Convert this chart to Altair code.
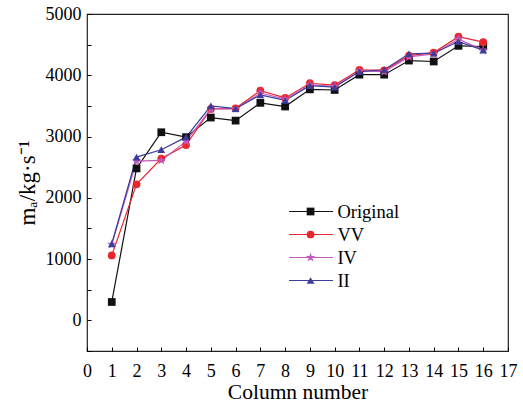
import altair as alt
import pandas as pd

columns = list(range(1, 17))
series_names = ["Original", "VV", "IV", "II"]
original = [300, 2480, 3070, 2990, 3310, 3260, 3550, 3490, 3770, 3760, 4010, 4010, 4240, 4225, 4480, 4470]
vv = [1060, 2220, 2640, 2860, 3450, 3460, 3750, 3630, 3870, 3840, 4090, 4080, 4320, 4370, 4630, 4540]
iv = [1240, 2600, 2610, 2920, 3450, 3450, 3710, 3610, 3845, 3820, 4070, 4060, 4300, 4350, 4590, 4410]
ii = [1250, 2665, 2785, 2990, 3500, 3455, 3680, 3590, 3830, 3805, 4060, 4090, 4350, 4360, 4550, 4410]

colors = ["#111111", "#e8262b", "#c25ac0", "#3c3c9c"]
star = ("M0,-1.3L0.29,-0.4L1.236,-0.402L0.469,0.152L0.764,1.052L0,0.494L-0.764,1.052"
        "L-0.469,0.152L-1.236,-0.402L-0.29,-0.4Z")
shapes = ["square", "circle", star, "triangle-up"]

rows = []
for name, vals in zip(series_names, [original, vv, iv, ii]):
    for c, v in zip(columns, vals):
        rows.append({"column": c, "value": v, "name": name, "label": name})
df = pd.DataFrame(rows)

FONT = "Liberation Serif"

x = alt.X("column:Q", scale=alt.Scale(domain=[0, 17], nice=False),
          axis=alt.Axis(values=list(range(0, 18)), title="Column number", offset=-4,
                        tickSize=4, labelPadding=11, titlePadding=1, domain=False,
                        labelFlush=False, titleFontSize=21.5))
y = alt.Y("value:Q", scale=alt.Scale(domain=[-500, 5000], nice=False),
          axis=alt.Axis(values=list(range(-500, 5001, 500)),
                        labelExpr="datum.value % 1000 == 0 ? datum.label : ''",
                        title="mₐ/kg·s⁻¹", offset=-4, tickSize=4, labelPadding=6,
                        titlePadding=6, domain=False, format="d", labelFlush=False,
                        titleFontSize=23))

lines = alt.Chart(df).mark_line(strokeWidth=1.2).encode(
    x=x, y=y,
    stroke=alt.Stroke("name:N", scale=alt.Scale(domain=series_names, range=colors),
                      legend=alt.Legend(orient="none", legendX=201, legendY=186, title=None,
                                        direction="vertical", symbolType="stroke",
                                        symbolSize=1936, symbolStrokeWidth=1.2,
                                        clipHeight=23.0, rowPadding=0, padding=0,
                                        labelExpr="''", symbolOffset=0)),
)

leg = dict(orient="none", legendX=201, legendY=186, title=None,
           direction="vertical", clipHeight=23.0, rowPadding=0,
           padding=0, symbolOffset=13.3, labelOffset=17.6,
           labelFont=FONT, labelFontSize=18.5, labelColor="black",
           symbolSize=60, symbolStrokeWidth=0)

points = alt.Chart(df).mark_point(filled=True, opacity=1, size=60).encode(
    x=x, y=y,
    fill=alt.Fill("label:N", scale=alt.Scale(domain=series_names, range=colors),
                  legend=alt.Legend(**leg)),
    shape=alt.Shape("label:N", scale=alt.Scale(domain=series_names, range=shapes),
                    legend=alt.Legend(**leg)),
)

chart = alt.layer(lines, points).resolve_scale(stroke="independent").properties(
    width=421, height=337, autosize="none",
    padding={"left": 87, "top": 14, "right": 15, "bottom": 56},
).configure_view(stroke="#222222", strokeWidth=1.2).configure_axis(
    labelFont=FONT, labelFontSize=18, labelColor="black", titleFont=FONT,
    titleFontWeight="normal", titleColor="black",
    tickColor="black", tickWidth=1, grid=False,
)

chart.save("out.html", embed_options={"renderer": "svg", "actions": False})
